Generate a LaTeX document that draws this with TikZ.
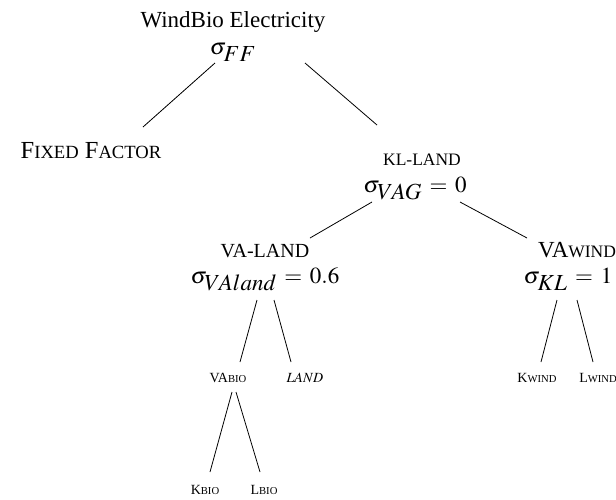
\documentclass[tikz,border=0pt]{standalone}
\usepackage{mathptmx}
\usepackage{fontspec}
\setmainfont{Liberation Serif}
\usepackage{tikz}
\usetikzlibrary{positioning}

\makeatletter
\newcommand{\smcap}[1]{{\fontsize{\fpeval{0.76*\f@size}}{0}\selectfont\MakeUppercase{#1}}}
\makeatother
% subscripts of the elasticities are set large
\newcommand{\sgm}[1]{\sigma_{\textstyle #1}}

\begin{document}
\begin{tikzpicture}[x=1pt, y=-1pt,
        big/.style={inner sep=0pt, anchor=base, font=\fontsize{23}{27}\selectfont},
        sig/.style={inner sep=0pt, anchor=base, font=\fontsize{23}{27}\selectfont},
        small/.style={inner sep=0pt, anchor=base, font=\fontsize{14}{16}\selectfont},
        branch/.style={line width=0.8pt}]
        \useasboundingbox (0,0) rectangle (616,499);

        % top level
        \node[big] (wb) at (233,27) {WindBio Electricity};
        \node[sig] (wbs) at (233,54) {$\sgm{FF}$};
        \node[big, font=\fontsize{24.5}{28}\selectfont] (ff) at (91,158) {F\smcap{ixed} F\smcap{actor}};
        \node[big] (kl) at (422,165) {\smcap{kl-land}};
        \node[sig] (kls) at (415,192) {$\sgm{VAG} \,=\, 0$};

        % second level
        \node[big, font=\fontsize{20}{24}\selectfont] (val) at (265,257) {VA-LAND};
        \node[sig] (vals) at (265,283) {$\sgm{VAland} \,=\, 0.6$};
        \node[big] (vaw) at (577,257) {VA\smcap{wind}};
        \node[sig] (vaws) at (568,283) {$\sgm{KL} \,=\, 1$};

        % leaves
        \node[small] (vab) at (228,382) {VA\smcap{bio}};
        \node[small] (land) at (305,382) {$LAND$};
        \node[small] (kw) at (537,382) {K\smcap{wind}};
        \node[small] (lw) at (598,382) {L\smcap{wind}};
        \node[small] (kb) at (205,494) {K\smcap{bio}};
        \node[small] (lb) at (264,494) {L\smcap{bio}};

        % branches
        \draw[branch] ([shift={(-18,9)}]wbs.base) -- ([shift={(52,-31)}]ff.base);
        \draw[branch] ([shift={(72,9)}]wbs.base) -- ([shift={(-45,-40)}]kl.base);
        \draw[branch] ([shift={(-43,10)}]kls.base) -- ([shift={(45,-19)}]val.base);
        \draw[branch] ([shift={(45,10)}]kls.base) -- ([shift={(-50,-19)}]vaw.base);
        \draw[branch] ([shift={(-8,17)}]vals.base) -- ([shift={(12,-20)}]vab.base);
        \draw[branch] ([shift={(9,17)}]vals.base) -- ([shift={(-14,-20)}]land.base);
        \draw[branch] ([shift={(-11,17)}]vaws.base) -- ([shift={(4,-20)}]kw.base);
        \draw[branch] ([shift={(9,17)}]vaws.base) -- ([shift={(-5,-20)}]lw.base);
        \draw[branch] ([shift={(4,10)}]vab.base) -- ([shift={(5,-22)}]kb.base);
        \draw[branch] ([shift={(8,10)}]vab.base) -- ([shift={(-4,-22)}]lb.base);
\end{tikzpicture}
\end{document}
